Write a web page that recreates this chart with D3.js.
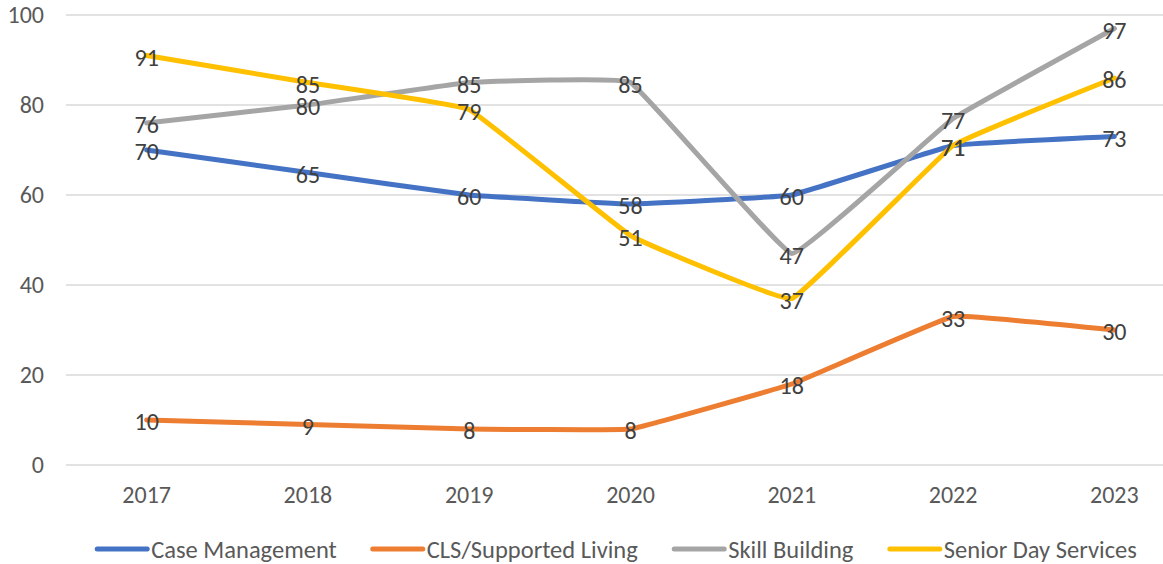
<!DOCTYPE html>
<head>
  <meta charset="utf-8">
  <script src="https://d3js.org/d3.v7.min.js"></script>
  <style>
    body { margin: 0; background: #fff; }
    svg { display: block; font-family: Carlito, Calibri, "Liberation Sans", Arial, sans-serif; }
    .grid line { stroke: #d9d9d9; stroke-width: 1.5px; }
    .tick-label { fill: #595959; font-size: 24px; }
    .series { fill: none; stroke-width: 5px; stroke-linejoin: round; stroke-linecap: round; }
    .value-label { fill: #404040; font-size: 24px; }
    .legend text { fill: #595959; font-size: 24.5px; }
  </style>
</head>

<body>
  <script>
    var years = ["2017", "2018", "2019", "2020", "2021", "2022", "2023"];
    var yTicks = [0, 20, 40, 60, 80, 100];

    var seriesNames = ["Case Management", "CLS/Supported Living", "Skill Building", "Senior Day Services"];
    var seriesColors = ["#4472c4", "#ed7d31", "#a5a5a5", "#ffc000"];

    var caseManagement = [70, 65, 60, 58, 60, 71, 73];
    var clsSupportedLiving = [10, 9, 8, 8, 18, 33, 30];
    var skillBuilding = [76, 80, 85, 85, 47, 77, 97];
    var seniorDayServices = [91, 85, 79, 51, 37, 71, 86];

    var seriesValues = [caseManagement, clsSupportedLiving, skillBuilding, seniorDayServices];

    var width = 1163, height = 564;

    var svg = d3.select("body").append("svg")
      .attr("width", width)
      .attr("height", height);

    var x = d3.scaleBand()
      .domain(years)
      .range([66, 1195])
      .padding(0);

    var y = d3.scaleLinear()
      .domain([0, 100])
      .range([465, 15]);

    function cx(yr) { return x(yr) + x.bandwidth() / 2; }

    // gridlines
    svg.append("g")
      .attr("class", "grid")
      .selectAll("line")
      .data(yTicks)
      .enter().append("line")
      .attr("x1", x.range()[0])
      .attr("x2", x.range()[1])
      .attr("y1", function(d) { return y(d); })
      .attr("y2", function(d) { return y(d); });

    // y tick labels
    svg.append("g")
      .selectAll("text")
      .data(yTicks)
      .enter().append("text")
      .attr("class", "tick-label")
      .attr("x", 44)
      .attr("y", function(d) { return y(d); })
      .attr("dy", "0.35em")
      .attr("text-anchor", "end")
      .text(function(d) { return d; });

    // x tick labels
    svg.append("g")
      .selectAll("text")
      .data(years)
      .enter().append("text")
      .attr("class", "tick-label")
      .attr("x", function(d) { return cx(d); })
      .attr("y", 495)
      .attr("dy", "0.35em")
      .attr("text-anchor", "middle")
      .text(function(d) { return d; });

    var series = seriesNames.map(function(name, i) {
      return {
        name: name,
        color: seriesColors[i],
        data: seriesValues[i].map(function(v, j) { return { year: years[j], value: v }; })
      };
    });

    // light smoothing, like the spreadsheet's smoothed lines
    var line = d3.line()
      .x(function(d) { return cx(d.year); })
      .y(function(d) { return y(d.value); })
      .curve(d3.curveCardinal.tension(0.8));

    svg.append("g")
      .selectAll("path")
      .data(series)
      .enter().append("path")
      .attr("class", "series")
      .attr("stroke", function(d) { return d.color; })
      .attr("d", function(d) { return line(d.data); });

    // data labels on top of all lines
    var labels = svg.append("g");
    series.forEach(function(s) {
      labels.selectAll(null)
        .data(s.data)
        .enter().append("text")
        .attr("class", "value-label")
        .attr("x", function(d) { return cx(d.year); })
        .attr("y", function(d) { return y(d.value) + 2; })
        .attr("dy", "0.35em")
        .attr("text-anchor", "middle")
        .text(function(d) { return d.value; });
    });

    // legend
    var legend = svg.append("g").attr("class", "legend");
    var keyLen = 52, keyGap = 4, itemGap = 36;
    var items = legend.selectAll("g")
      .data(series)
      .enter().append("g");

    items.append("line")
      .attr("x1", 2).attr("x2", keyLen)
      .attr("y1", 0).attr("y2", 0)
      .attr("stroke", function(d) { return d.color; })
      .attr("stroke-width", 5)
      .attr("stroke-linecap", "round");

    items.append("text")
      .attr("x", keyLen + keyGap)
      .attr("dy", "0.35em")
      .text(function(d) { return d.name; });

    var widths = [];
    items.each(function() { widths.push(this.getBBox().width); });
    var total = d3.sum(widths) + itemGap * (widths.length - 1);
    var pos = 615 - total / 2;
    items.attr("transform", function(d, i) {
      var t = "translate(" + pos + ",549)";
      pos += widths[i] + itemGap;
      return t;
    });
  </script>
</body>
